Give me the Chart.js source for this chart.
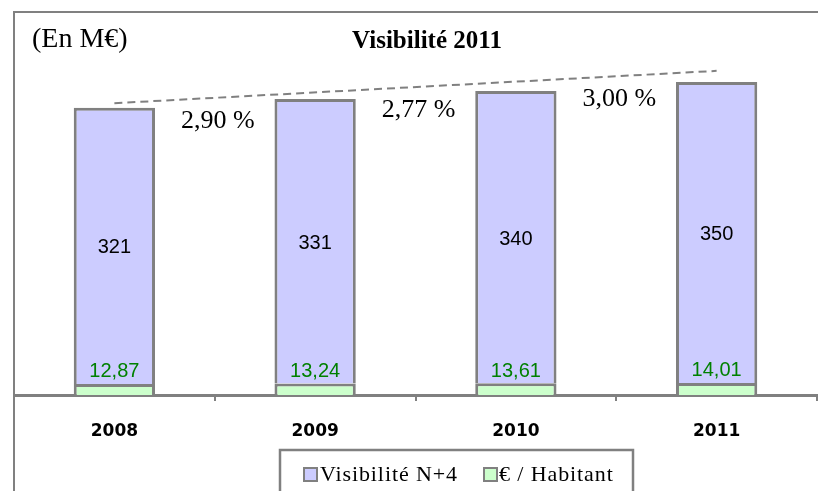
<!DOCTYPE html>
<html>
<head>
<meta charset="utf-8">
<script src="https://cdn.jsdelivr.net/npm/chart.js@4/dist/chart.umd.min.js"></script>
<style>
  html, body { margin: 0; padding: 0; background: #fff; }
  canvas { display: block; }
</style>
</head>
<body>
<canvas id="c" width="818" height="491"></canvas>
<script>
// ---- Data ----
const categories = ['2008', '2009', '2010', '2011'];
const visibilite = [321, 331, 340, 350];
const parHabitant = [12.87, 13.24, 13.61, 14.01];
const parHabitantLabels = ['12,87', '13,24', '13,61', '14,01'];
const trend = [339.3, null, null, 376.9];
const growthLabels = ['2,90 %', '2,77 %', '3,00 %'];
const seriesNames = ['Visibilité N+4', '€ / Habitant'];
const yMax = 400;
const yStep = 50;

const GRAY = '#808080';
const BLUE = '#CCCCFF';
const GREEN = '#CCFFCC';

const decorPlugin = {
  id: 'decor',
  beforeDraw(chart) {
    const ctx = chart.ctx;
    ctx.save();
    ctx.fillStyle = '#fff';
    ctx.fillRect(0, 0, chart.width, chart.height);
    ctx.restore();
  },
  afterDatasetsDraw(chart) {
    const ctx = chart.ctx;
    const xs = chart.scales.x;
    const ys = chart.scales.y;
    ctx.save();
    // frame
    ctx.strokeStyle = GRAY;
    ctx.lineWidth = 2;
    ctx.beginPath();
    ctx.moveTo(14, 491);
    ctx.lineTo(14, 12);
    ctx.lineTo(818, 12);
    ctx.stroke();

    // headings
    ctx.fillStyle = '#000';
    ctx.textBaseline = 'alphabetic';
    ctx.textAlign = 'left';
    ctx.font = '28px "Liberation Serif"';
    ctx.fillText('(En M€)', 32, 47);
    ctx.textAlign = 'center';
    ctx.font = 'bold 25px "Liberation Serif"';
    ctx.fillText('Visibilité 2011', 427, 48);

    // bar value labels
    const metaGreen = chart.getDatasetMeta(0);
    const metaBlue = chart.getDatasetMeta(1);
    ctx.font = '20px "Liberation Sans"';
    ctx.textAlign = 'center';
    ctx.textBaseline = 'middle';
    metaBlue.data.forEach((el, i) => {
      ctx.fillStyle = '#000';
      ctx.fillText(String(visibilite[i]), el.x, (el.y + el.base) / 2 + 2);
    });
    metaGreen.data.forEach((el, i) => {
      ctx.fillStyle = '#008000';
      ctx.fillText(parHabitantLabels[i], el.x, el.y - 12);
    });

    // growth labels between bars
    ctx.fillStyle = '#000';
    ctx.font = '26px "Liberation Serif"';
    ctx.textBaseline = 'alphabetic';
    const t0 = ys.getPixelForValue(trend[0]);
    const t1 = ys.getPixelForValue(trend[3]);
    const x0 = xs.getPixelForValue(0);
    const x1 = xs.getPixelForValue(3);
    growthLabels.forEach((lab, i) => {
      const x = (xs.getPixelForValue(i) + xs.getPixelForValue(i + 1)) / 2 + 3;
      const ty = t0 + (t1 - t0) * (x - x0) / (x1 - x0);
      ctx.fillText(lab, x, ty + 30);
    });

    // legend
    ctx.fillStyle = '#fff';
    ctx.fillRect(280, 450, 353, 45);
    ctx.strokeStyle = GRAY;
    ctx.lineWidth = 2.5;
    ctx.strokeRect(280, 450, 353, 45);
    const items = [
      { x: 304, color: BLUE, text: seriesNames[0], tx: 320 },
      { x: 484, color: GREEN, text: seriesNames[1], tx: 499 }
    ];
    ctx.font = '22px "Liberation Serif"';
    ctx.textAlign = 'left';
    ctx.textBaseline = 'alphabetic';
    items.forEach(it => {
      ctx.fillStyle = it.color;
      ctx.fillRect(it.x, 468, 13, 13);
      ctx.strokeStyle = GRAY;
      ctx.lineWidth = 2;
      ctx.strokeRect(it.x, 468, 13, 13);
      ctx.fillStyle = '#000';
      if ('letterSpacing' in ctx) ctx.letterSpacing = '0.9px';
      ctx.fillText(it.text, it.tx, 481);
      if ('letterSpacing' in ctx) ctx.letterSpacing = '0px';
    });
    ctx.restore();
  }
};

new Chart(document.getElementById('c'), {
  data: {
    labels: categories,
    datasets: [
      {
        type: 'bar',
        label: seriesNames[1],
        data: parHabitant,
        backgroundColor: GREEN,
        borderColor: GRAY,
        borderWidth: 3,
        borderSkipped: 'bottom',
        stack: 'main',
        categoryPercentage: 1,
        barPercentage: 0.405
      },
      {
        type: 'bar',
        label: seriesNames[0],
        data: visibilite,
        backgroundColor: BLUE,
        borderColor: GRAY,
        borderWidth: 3,
        borderSkipped: 'bottom',
        stack: 'main',
        categoryPercentage: 1,
        barPercentage: 0.405
      },
      {
        type: 'line',
        label: 'trend',
        data: trend,
        stack: 'trend',
        spanGaps: true,
        borderColor: GRAY,
        borderWidth: 2,
        borderDash: [8, 5],
        pointRadius: 0,
        fill: false
      }
    ]
  },
  options: {
    responsive: false,
    animation: false,
    layout: { padding: { left: 14, top: 51, right: 1, bottom: 0 } },
    plugins: {
      legend: { display: false },
      title: { display: false },
      tooltip: { enabled: false }
    },
    scales: {
      x: {
        stacked: true,
        offset: true,
        grid: {
          offset: true,
          drawOnChartArea: false,
          drawTicks: true,
          tickLength: 6,
          color: GRAY,
          lineWidth: 2
        },
        border: { display: true, color: GRAY, width: 3 },
        ticks: {
          color: '#000',
          font: { family: 'DejaVu Sans', size: 17, weight: 'bold' },
          padding: 20
        },
        afterFit(scale) { scale.height = 96; }
      },
      y: {
        display: false,
        stacked: true,
        min: 0,
        max: yMax,
        ticks: { stepSize: yStep }
      }
    }
  },
  plugins: [decorPlugin]
});
</script>
</body>
</html>
